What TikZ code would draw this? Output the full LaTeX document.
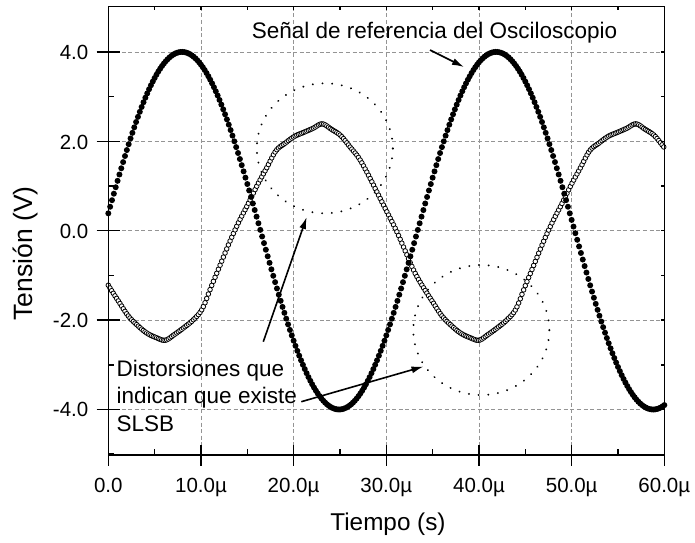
\documentclass[tikz,border=0pt]{standalone}
\usepackage{fontspec}
\setmainfont{Liberation Sans}
\usetikzlibrary{arrows.meta}
\begin{document}
\begin{tikzpicture}[x=1pt,y=-1pt,
  gridline/.style={black!42, line width=0.7pt, dash pattern=on 4pt off 2.6pt},
  framebox/.style={line width=1.5pt},
  tickmark/.style={line width=1.5pt},
  ticklab/.style={font=\fontsize{20.5}{24}\selectfont, inner sep=0pt},
  axlab/.style={font=\fontsize{24.3}{28}\selectfont, inner sep=0pt},
  annot/.style={font=\fontsize{22.5}{27}\selectfont, inner sep=0pt, anchor=base west},
  pointer/.style={line width=1.6pt, -{Latex[length=12pt,width=7pt]}},
  dotring/.style={line width=2.1pt, dash pattern=on 0.01pt off 9.7pt, line cap=round},
  openmark/.style={draw=black, fill=white, line width=0.8pt},
  fullmark/.style={fill=black}
]
\useasboundingbox (0,0) rectangle (695,542);

% grid
\foreach \k in {1,...,5}
  \draw[gridline] ({108.3+92.67*\k},6.7) -- ({108.3+92.67*\k},455);
\foreach \v in {-4,-2,0,2,4}
  \draw[gridline] (108.3,{230.7-44.7*(\v)}) -- (664.3,{230.7-44.7*(\v)});

% open-circle signal (one period table, Catmull-Rom interpolation)
\def\OV{{-2.39,-2.45,-2.32,-2.17,-2.00,-1.75,-1.24,-0.74,-0.24,0.21,0.61,1.03,1.41,1.79,1.96,2.11,2.20,2.29,2.39,2.27,2.13,1.88,1.62,1.25,0.84,0.43,0.02,-0.45,-0.92,-1.28,-1.60,-1.91,-2.12,-2.29,-2.39,-2.45,-2.32,-2.17}}
\foreach \n in {0,...,333}{
  \pgfmathsetmacro\tval{0.18*\n}
  \pgfmathsetmacro\uval{mod(\tval+27.7,33.85)*34/33.85}
  \pgfmathtruncatemacro\jb{floor(\uval)+1}
  \pgfmathtruncatemacro\ja{\jb-1}
  \pgfmathtruncatemacro\jc{\jb+1}
  \pgfmathtruncatemacro\jd{\jb+2}
  \pgfmathsetmacro\fval{\uval-\jb+1}
  \pgfmathsetmacro\pa{\OV[\ja]}
  \pgfmathsetmacro\pb{\OV[\jb]}
  \pgfmathsetmacro\pc{\OV[\jc]}
  \pgfmathsetmacro\pd{\OV[\jd]}
  \pgfmathsetmacro\vval{0.5*(2*(\pb)+((\pc)-(\pa))*\fval+(2*(\pa)-5*(\pb)+4*(\pc)-(\pd))*\fval*\fval+(3*(\pb)-(\pa)-3*(\pc)+(\pd))*\fval*\fval*\fval)}
  \filldraw[openmark] ({108.3+9.267*\tval},{230.7-44.7*(\vval)}) circle[radius=2.3pt];
}

% filled-circle reference signal
\foreach \n in {0,...,300}{
  \pgfmathsetmacro\tval{0.2*\n}
  \pgfmathsetmacro\vval{4*cos((\tval-7.95)/33.9*360)}
  \fill[fullmark] ({108.3+9.267*\tval},{230.7-44.7*(\vval)}) circle[radius=3pt];
}

% frame and ticks
\draw[framebox] (108.3,6.7) rectangle (664.3,455);
\foreach \k in {0,...,6}
  \draw[tickmark] ({108.3+92.67*\k},445) -- ({108.3+92.67*\k},466);
\foreach \k in {0,...,5}
  \draw[tickmark] ({154.6+92.67*\k},455) -- ({154.6+92.67*\k},449);
\foreach \k in {1,...,11}
  \draw[tickmark] ({108.3+46.33*\k},6.7) -- ({108.3+46.33*\k},9.7);
\foreach \v in {-4,-2,0,2,4}
  \draw[tickmark] (96.7,{230.7-44.7*(\v)}) -- (120,{230.7-44.7*(\v)});
\foreach \v in {-5,-3,-1,1,3}
  \draw[tickmark] (108.3,{230.7-44.7*(\v)}) -- (114.3,{230.7-44.7*(\v)});
\foreach \v in {-4,...,4}
  \draw[tickmark] (664.3,{230.7-44.7*(\v)}) -- (661.3,{230.7-44.7*(\v)});

% tick labels
\node[ticklab, anchor=base] (x0) at (108.3,492) {0.0};
\node[ticklab, anchor=base] (x1) at (201,492) {10.0µ};
\node[ticklab, anchor=base] (x2) at (293.6,492) {20.0µ};
\node[ticklab, anchor=base] (x3) at (386.3,492) {30.0µ};
\node[ticklab, anchor=base] (x4) at (479,492) {40.0µ};
\node[ticklab, anchor=base] (x5) at (571.7,492) {50.0µ};
\node[ticklab, anchor=base] (x6) at (664.3,492) {60.0µ};
\node[ticklab, anchor=base east] (y4) at (88.5,59.6) {4.0};
\node[ticklab, anchor=base east] (y2) at (88.5,149) {2.0};
\node[ticklab, anchor=base east] (y0) at (88.5,238) {0.0};
\node[ticklab, anchor=base east] (ym2) at (88.5,327.4) {-2.0};
\node[ticklab, anchor=base east] (ym4) at (88.5,416.8) {-4.0};

% axis titles
\node[axlab, anchor=base] (xt) at (388,530.7) {Tiempo (s)};
\node[axlab, font=\fontsize{26.5}{30}\selectfont, anchor=base, rotate=90] (yt) at (32.3,253.3) {Tensión (V)};

% dotted rings
\draw[dotring] (324.8,148.3) ellipse[x radius=68pt, y radius=65pt];
\draw[dotring] (481.3,330) ellipse[x radius=68pt, y radius=65pt];

% annotations
\node[annot] (senal) at (251.7,38.3) {Señal de referencia del Osciloscopio};
\node[annot] (dista) at (116.5,376) {Distorsiones que};
\node[annot] (distb) at (116.5,403.3) {indican que existe};
\node[annot] (distc) at (116.5,431) {SLSB};

\coordinate (p1s) at (430,50);
\coordinate (p1e) at (464,67);
\coordinate (p2s) at (263.3,341.7);
\coordinate (p2e) at (306.7,217);
\coordinate (p3s) at (301.3,401.7);
\coordinate (p3e) at (423.5,366.5);
\draw[pointer] (p1s) -- (p1e);
\draw[pointer] (p2s) -- (p2e);
\draw[pointer] (p3s) -- (p3e);
\end{tikzpicture}
\end{document}
